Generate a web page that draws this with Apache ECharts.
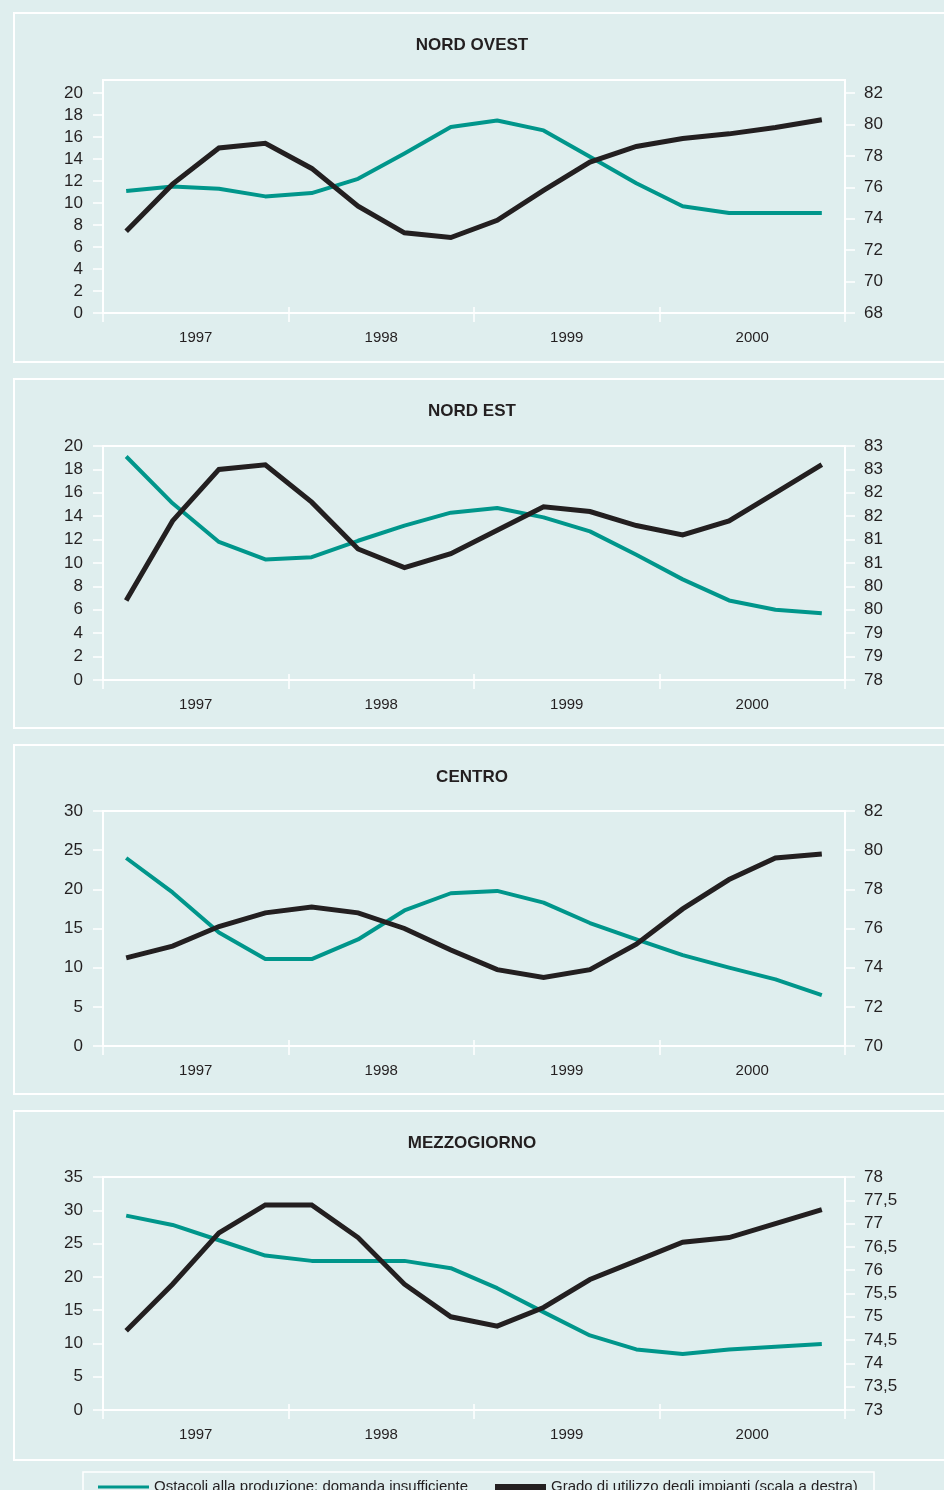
<!DOCTYPE html>
<html>
<head>
<meta charset="utf-8">
<title>Ostacoli alla produzione e grado di utilizzo degli impianti</title>
<script src="https://cdn.jsdelivr.net/npm/echarts@6/dist/echarts.min.js"></script>
<style>
  html, body { margin: 0; padding: 0; background: #dfeeee; }
  #chart { width: 944px; height: 1490px; }
</style>
</head>
<body>
<div id="chart"></div>
<script>
// Dati (trimestrali, 1997-2000)
const years = ["1997", "1998", "1999", "2000"];
const quarters = [
  "I 1997", "II 1997", "III 1997", "IV 1997",
  "I 1998", "II 1998", "III 1998", "IV 1998",
  "I 1999", "II 1999", "III 1999", "IV 1999",
  "I 2000", "II 2000", "III 2000", "IV 2000"
];
const panelTitles = ["NORD OVEST", "NORD EST", "CENTRO", "MEZZOGIORNO"];
const nameDomanda = "Ostacoli alla produzione: domanda insufficiente";
const nameImpianti = "Grado di utilizzo degli impianti (scala a destra)";

// domanda insufficiente (scala sinistra)
const domandaNordOvest = [11.1, 11.5, 11.3, 10.6, 10.9, 12.2, 14.5, 16.9, 17.5, 16.6, 14.2, 11.8, 9.7, 9.1, 9.1, 9.1];
const domandaNordEst = [19.1, 15.1, 11.8, 10.3, 10.5, 11.9, 13.2, 14.3, 14.7, 13.9, 12.7, 10.7, 8.6, 6.8, 6.0, 5.7];
const domandaCentro = [24.0, 19.6, 14.5, 11.1, 11.1, 13.6, 17.3, 19.5, 19.8, 18.3, 15.7, 13.6, 11.6, 10.0, 8.5, 6.5];
const domandaMezzogiorno = [29.2, 27.8, 25.5, 23.2, 22.4, 22.4, 22.4, 21.3, 18.3, 14.7, 11.2, 9.1, 8.4, 9.1, 9.5, 9.9];

// grado di utilizzo degli impianti (scala destra)
const impiantiNordOvest = [73.2, 76.2, 78.5, 78.8, 77.2, 74.8, 73.1, 72.8, 73.9, 75.8, 77.6, 78.6, 79.1, 79.4, 79.8, 80.3];
const impiantiNordEst = [79.7, 81.4, 82.5, 82.6, 81.8, 80.8, 80.4, 80.7, 81.2, 81.7, 81.6, 81.3, 81.1, 81.4, 82.0, 82.6];
const impiantiCentro = [74.5, 75.1, 76.1, 76.8, 77.1, 76.8, 76.0, 74.9, 73.9, 73.5, 73.9, 75.2, 77.0, 78.5, 79.6, 79.8];
const impiantiMezzogiorno = [74.7, 75.7, 76.8, 77.4, 77.4, 76.7, 75.7, 75.0, 74.8, 75.2, 75.8, 76.2, 76.6, 76.7, 77.0, 77.3];

// scale degli assi
const leftMin = [0, 0, 0, 0];
const leftMax = [20, 20, 30, 35];
const leftStep = [2, 2, 5, 5];
const rightMin = [68, 78, 70, 73];
const rightMax = [82, 83, 82, 78];
const rightStep = [2, 0.5, 2, 0.5];

const domanda = [domandaNordOvest, domandaNordEst, domandaCentro, domandaMezzogiorno];
const impianti = [impiantiNordOvest, impiantiNordEst, impiantiCentro, impiantiMezzogiorno];

// layout (pixel)
const boxTop = [13, 379, 745, 1111];
const boxHeight = 349;
const gridTop = [80, 446, 811, 1177];
const valueTop = [93, 446, 811, 1177];   // dove cade il massimo della scala
const gridBottom = [313, 680, 1046, 1410];

const TEAL = "#00968b";
const DARK = "#231f20";
const WHITE = "#ffffff";
const FONT = "'Liberation Sans', Arial, Helvetica, sans-serif";

const ticks = (min, max, step) => {
  const out = [];
  for (let v = min; v <= max + 1e-9; v += step) out.push(Math.round(v * 100) / 100);
  return out;
};
// il riquadro del primo pannello sporge sopra il massimo della scala
const extendMax = (i, min, max) =>
  max + (max - min) * (valueTop[i] - gridTop[i]) / (gridBottom[i] - valueTop[i]);

const chart = echarts.init(document.getElementById("chart"), null, { renderer: "canvas" });

const grids = [], xAxes = [], yAxes = [], series = [], titles = [], frames = [];

panelTitles.forEach((t, i) => {
  frames.push({
    type: "rect",
    shape: { x: 14, y: boxTop[i], width: 940, height: boxHeight },
    style: { fill: "none", stroke: WHITE, lineWidth: 2 },
    silent: true
  });

  titles.push({
    text: t,
    left: "center",
    top: boxTop[i] + 19,
    textStyle: { fontFamily: FONT, fontSize: 17, fontWeight: "bold", color: DARK }
  });

  grids.push({
    left: 103, right: 99, top: gridTop[i], height: gridBottom[i] - gridTop[i],
    show: true, borderColor: WHITE, borderWidth: 2, backgroundColor: "transparent"
  });

  // asse degli anni (etichette e tacche)
  xAxes.push({
    type: "category", gridIndex: i, data: years, position: "bottom", boundaryGap: true,
    axisLine: { show: true, lineStyle: { color: WHITE, width: 2 } },
    axisTick: { show: true, interval: 0, length: 9, lineStyle: { color: WHITE, width: 1.5 } },
    axisLabel: { fontFamily: FONT, fontSize: 15, color: DARK, margin: 17, interval: 0 },
    splitLine: { show: false }
  });
  // asse trimestrale, usato dalle serie
  xAxes.push({
    type: "category", gridIndex: i, data: quarters, position: "bottom", boundaryGap: true,
    axisLine: { show: false },
    axisTick: { show: true, inside: true, length: 6, interval: idx => idx % 4 === 0,
                lineStyle: { color: WHITE, width: 1.5 } },
    axisLabel: { show: false },
    splitLine: { show: false }
  });

  const lTicks = ticks(leftMin[i], leftMax[i], leftStep[i]);
  const rTicks = ticks(rightMin[i], rightMax[i], rightStep[i]);
  const rFmt = rightStep[i] < 1
    ? (i === 1 ? v => String(Math.round(v)) : v => String(v).replace(".", ","))
    : v => String(v);

  yAxes.push({
    type: "value", gridIndex: i, position: "left",
    min: leftMin[i], max: extendMax(i, leftMin[i], leftMax[i]),
    axisLine: { show: true, lineStyle: { color: WHITE, width: 2 } },
    axisTick: { show: true, length: 10, customValues: lTicks, lineStyle: { color: WHITE, width: 1.5 } },
    axisLabel: { fontFamily: FONT, fontSize: 17, color: DARK, margin: 20, customValues: lTicks },
    splitLine: { show: false }
  });
  yAxes.push({
    type: "value", gridIndex: i, position: "right",
    min: rightMin[i], max: extendMax(i, rightMin[i], rightMax[i]),
    axisLine: { show: true, lineStyle: { color: WHITE, width: 2 } },
    axisTick: { show: true, length: 10, customValues: rTicks, lineStyle: { color: WHITE, width: 1.5 } },
    axisLabel: { fontFamily: FONT, fontSize: 17, color: DARK, margin: 19, customValues: rTicks, formatter: rFmt },
    splitLine: { show: false }
  });

  series.push({
    name: nameDomanda, type: "line", xAxisIndex: i * 2 + 1, yAxisIndex: i * 2,
    data: domanda[i], symbol: "none", smooth: false,
    lineStyle: { color: TEAL, width: 4, join: "round" }, itemStyle: { color: TEAL },
    z: 3, animation: false
  });
  series.push({
    name: nameImpianti, type: "line", xAxisIndex: i * 2 + 1, yAxisIndex: i * 2 + 1,
    data: impianti[i], symbol: "none", smooth: false,
    lineStyle: { color: DARK, width: 5, join: "miter" }, itemStyle: { color: DARK },
    z: 4, animation: false
  });
});

// riquadro della legenda
frames.push({
  type: "rect",
  shape: { x: 83, y: 1472, width: 791, height: 40 },
  style: { fill: "none", stroke: WHITE, lineWidth: 1.5 },
  silent: true
});

// testo leggermente più alto del simbolo, come nell'originale
const legendText = { fontFamily: FONT, fontSize: 15, lineHeight: 18, color: DARK, padding: [0, 0, 10, 0] };

chart.setOption({
  backgroundColor: "#dfeeee",
  animation: false,
  title: titles,
  graphic: frames,
  grid: grids,
  xAxis: xAxes,
  yAxis: yAxes,
  series: series,
  legend: [
    {
      left: 98, top: 1473, padding: 0,
      icon: "rect", itemWidth: 51, itemHeight: 3, itemGap: 6,
      selectedMode: false, textStyle: legendText,
      data: [nameDomanda]
    },
    {
      left: 495, top: 1473, padding: 0,
      icon: "rect", itemWidth: 51, itemHeight: 6, itemGap: 8,
      selectedMode: false, textStyle: legendText,
      data: [nameImpianti]
    }
  ]
});
</script>
</body>
</html>
